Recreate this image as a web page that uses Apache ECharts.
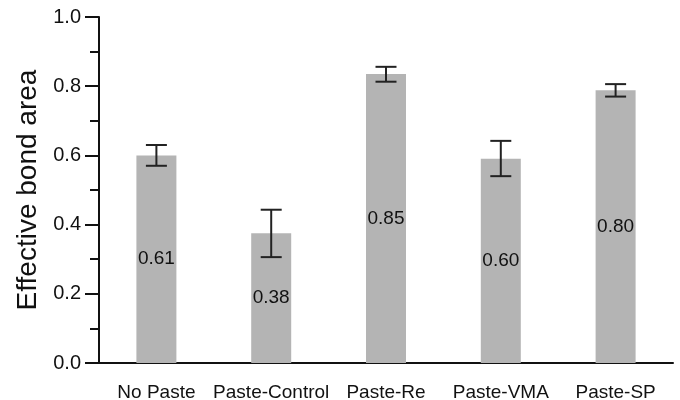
<!DOCTYPE html>
<html>
<head>
<meta charset="utf-8">
<script src="https://cdn.jsdelivr.net/npm/echarts@6/dist/echarts.min.js"></script>
<style>
  html, body { margin: 0; padding: 0; background: #fff; }
  #chart { width: 680px; height: 400px; }
</style>
</head>
<body>
<div id="chart"></div>
<script>
// data
var categories = ['No Paste', 'Paste-Control', 'Paste-Re', 'Paste-VMA', 'Paste-SP']
var barValues = [0.600, 0.375, 0.835, 0.590, 0.788]
var errLow = [0.570, 0.306, 0.813, 0.540, 0.770]
var errHigh = [0.630, 0.443, 0.856, 0.642, 0.806]
var barLabels = ['0.61', '0.38', '0.85', '0.60', '0.80']
var yTicks = [0, 0.2, 0.4, 0.6, 0.8, 1.0]

var font = 'Arial, "Liberation Sans", Helvetica, sans-serif'
var chart = echarts.init(document.getElementById('chart'))

var errData = categories.map(function (c, i) {
  return [i, errLow[i], errHigh[i]]
})

chart.setOption({
  animation: false,
  grid: { left: 99, right: 7, top: 17, bottom: 37, outerBoundsMode: 'none', containLabel: false },
  xAxis: {
    type: 'category',
    data: categories,
    axisLine: { lineStyle: { color: '#111', width: 2 } },
    axisTick: { alignWithLabel: true, length: 13, lineStyle: { color: '#111', width: 2 } },
    axisLabel: { color: '#111', fontSize: 19, fontFamily: font, margin: 20, interval: 0, hideOverlap: false }
  },
  yAxis: {
    type: 'value',
    min: yTicks[0],
    max: yTicks[yTicks.length - 1],
    interval: 0.2,
    name: 'Effective bond area',
    nameLocation: 'middle',
    nameGap: 57,
    nameTextStyle: { color: '#111', fontSize: 28, fontFamily: font },
    axisLine: { show: true, lineStyle: { color: '#111', width: 2 } },
    axisTick: { show: true, length: 14, lineStyle: { color: '#111', width: 2 } },
    minorTick: { show: true, splitNumber: 2, length: 9, lineStyle: { color: '#111', width: 2 } },
    splitLine: { show: false },
    axisLabel: {
      color: '#111', fontSize: 20, fontFamily: font, margin: 18,
      formatter: function (v) { return v.toFixed(1) }
    }
  },
  series: [
    {
      type: 'bar',
      data: barValues,
      barWidth: 40,
      itemStyle: { color: '#b4b4b4' },
      label: {
        show: true,
        position: 'inside',
        color: '#111',
        fontSize: 19,
        fontFamily: font,
        formatter: function (p) { return barLabels[p.dataIndex] }
      }
    },
    {
      type: 'custom',
      data: errData,
      z: 10,
      renderItem: function (params, api) {
        var x = api.value(0)
        var lo = api.coord([x, api.value(1)])
        var hi = api.coord([x, api.value(2)])
        var half = 10.5
        var style = { stroke: '#222', lineWidth: 2 }
        return {
          type: 'group',
          children: [
            { type: 'line', shape: { x1: hi[0], y1: hi[1], x2: lo[0], y2: lo[1] }, style: style },
            { type: 'line', shape: { x1: hi[0] - half, y1: hi[1], x2: hi[0] + half, y2: hi[1] }, style: style },
            { type: 'line', shape: { x1: lo[0] - half, y1: lo[1], x2: lo[0] + half, y2: lo[1] }, style: style }
          ]
        }
      }
    }
  ]
})
</script>
</body>
</html>
